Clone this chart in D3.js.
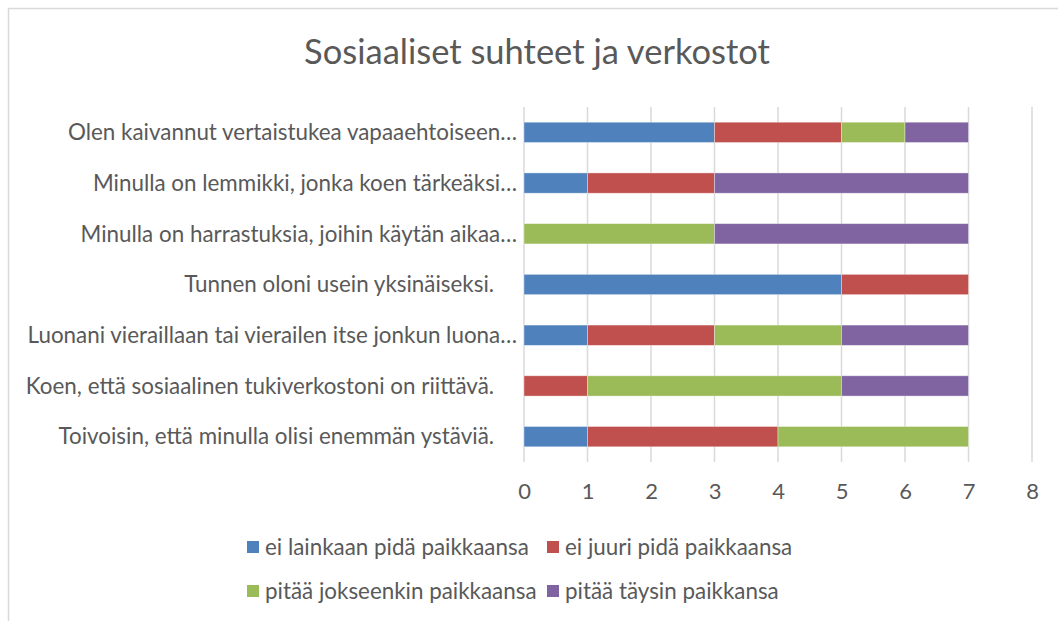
<!DOCTYPE html>
<html>
<head>
<meta charset="utf-8">
<script src="https://cdn.jsdelivr.net/npm/d3@7"></script>
<style>
  body { margin: 0; background: #fff; }
  text { font-family: Lato, "Open Sans", sans-serif; fill: #595959; }
</style>
</head>
<body>
<svg width="1058" height="621"></svg>
<script>
// data
var categories = [
  "Olen kaivannut vertaistukea vapaaehtoiseen…",
  "Minulla on lemmikki, jonka koen tärkeäksi…",
  "Minulla on harrastuksia, joihin käytän aikaa…",
  "Tunnen oloni usein yksinäiseksi.    ",
  "Luonani vieraillaan tai vierailen itse jonkun luona…",
  "Koen, että sosiaalinen tukiverkostoni on riittävä.    ",
  "Toivoisin, että minulla olisi enemmän ystäviä.    "
];
var seriesNames = ["ei lainkaan pidä paikkaansa", "ei juuri pidä paikkaansa", "pitää jokseenkin paikkaansa", "pitää täysin paikkansa"];
var eiLainkaan = [3, 1, 0, 5, 1, 0, 1];
var eiJuuri    = [2, 2, 0, 2, 2, 1, 3];
var jokseenkin = [1, 0, 3, 0, 2, 4, 3];
var taysin     = [1, 4, 4, 0, 2, 2, 0];
var xTicks = [0, 1, 2, 3, 4, 5, 6, 7, 8];
var colors = ["#4f81bd", "#c0504d", "#9bbb59", "#8064a2"];

var svg = d3.select("svg");

// chart border (only top and left are inside the picture)
svg.append("rect")
  .attr("x", 8.5).attr("y", 8.5)
  .attr("width", 1100).attr("height", 700)
  .attr("fill", "none")
  .attr("stroke", "#d9d9d9")
  .attr("stroke-width", 1.5);

svg.append("text")
  .attr("x", 537).attr("y", 64)
  .attr("text-anchor", "middle")
  .attr("font-size", 34.5)
  .text("Sosiaaliset suhteet ja verkostot");

var table = categories.map(function(c, i) {
  return {cat: c, v: [eiLainkaan[i], eiJuuri[i], jokseenkin[i], taysin[i]]};
});

var x = d3.scaleLinear().domain([0, 8]).range([524, 1032]);
var y = d3.scaleBand().domain(categories).range([107, 462])
  .paddingInner(0.6).paddingOuter(0.3);

// gridlines
svg.append("g")
  .selectAll("line")
  .data(xTicks)
  .enter().append("line")
  .attr("x1", function(d) { return x(d); })
  .attr("x2", function(d) { return x(d); })
  .attr("y1", 107).attr("y2", 462)
  .attr("stroke", "#d9d9d9")
  .attr("stroke-width", 1.5);

// stacked bars
var stackData = table.map(function(d) {
  var acc = 0;
  return d.v.map(function(v, k) {
    var s = {cat: d.cat, k: k, x0: acc, x1: acc + v};
    acc += v;
    return s;
  });
});

svg.append("g")
  .selectAll("g")
  .data(stackData)
  .enter().append("g")
  .selectAll("rect")
  .data(function(d) { return d.filter(function(s) { return s.x1 > s.x0; }); })
  .enter().append("rect")
  .attr("x", function(d) { return x(d.x0); })
  .attr("y", function(d) { return y(d.cat); })
  .attr("width", function(d) { return x(d.x1) - x(d.x0); })
  .attr("height", y.bandwidth())
  .attr("fill", function(d) { return colors[d.k]; })
  .attr("stroke", "rgba(255,255,255,0.45)")
  .attr("stroke-width", 0.8);

// category labels
svg.append("g")
  .selectAll("text")
  .data(categories)
  .enter().append("text")
  .attr("x", 517)
  .attr("y", function(d) { return y(d) + y.bandwidth() / 2; })
  .attr("dy", "0.35em")
  .attr("text-anchor", "end")
  .attr("font-size", 22.4)
  .style("white-space", "pre")
  .text(function(d) { return d; });

// x axis labels
var xAxis = svg.append("g")
  .attr("transform", "translate(0,462)")
  .call(d3.axisBottom(x).tickValues(xTicks).tickSize(0).tickPadding(21).tickFormat(d3.format("d")));
xAxis.select(".domain").remove();
xAxis.selectAll("text")
  .attr("font-size", 22)
  .style("font-family", "Lato, sans-serif")
  .attr("fill", "#595959");

// legend
var legendPos = [[247, 547], [547, 547], [247, 591], [547, 591]];
var legend = svg.append("g")
  .selectAll("g")
  .data(seriesNames)
  .enter().append("g")
  .attr("transform", function(d, i) { return "translate(" + legendPos[i][0] + "," + legendPos[i][1] + ")"; });

legend.append("rect")
  .attr("x", 0).attr("y", -6)
  .attr("width", 12).attr("height", 12)
  .attr("fill", function(d, i) { return colors[i]; });

legend.append("text")
  .attr("x", 18)
  .attr("dy", "0.35em")
  .attr("font-size", 22.4)
  .text(function(d) { return d; });
</script>
</body>
</html>
